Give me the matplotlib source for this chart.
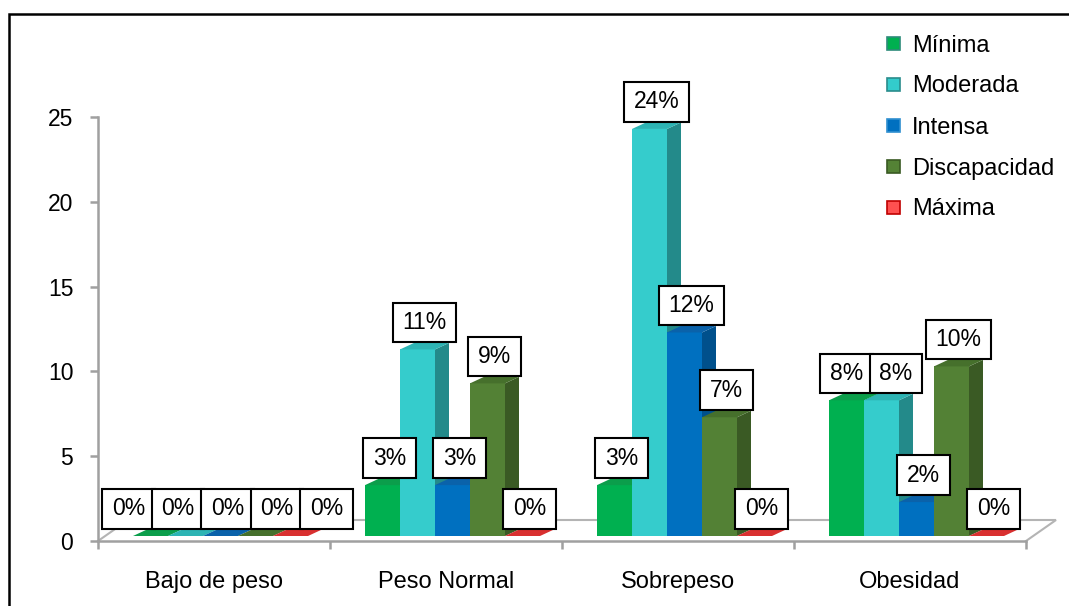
import matplotlib
matplotlib.use("Agg")
import matplotlib.pyplot as plt
from matplotlib.patches import Polygon, Rectangle

plt.rcParams['font.family'] = ['Liberation Sans', 'DejaVu Sans']

# data
categories = ["Bajo de peso", "Peso Normal", "Sobrepeso", "Obesidad"]
series = ["Mínima", "Moderada", "Intensa", "Discapacidad", "Máxima"]
minima = [0, 3, 3, 8]
moderada = [0, 11, 24, 8]
intensa = [0, 3, 12, 2]
discapacidad = [0, 9, 7, 10]
maxima = [0, 0, 0, 0]
values = [minima, moderada, intensa, discapacidad, maxima]

front_colors = ["#00B050", "#35CCCC", "#0070C0", "#538135", "#E23A3A"]
top_colors = ["#0B9E4B", "#2DB4B4", "#0A62AA", "#46702C", "#D93030"]
side_colors = ["#078040", "#238A8A", "#00508C", "#3A5A24", "#A82020"]
legend_fc = ["#00B050", "#33CCCC", "#0070C0", "#548235", "#FF5050"]
legend_ec = ["#2E8B7A", "#2A8C8C", "#2F8FD0", "#3A5A22", "#C00000"]

W, H, DPI = 1069, 606, 100
fig = plt.figure(figsize=(W / DPI, H / DPI), dpi=DPI)
ax = fig.add_axes([98 / W, 65 / H, 928 / W, 424 / H])
ax.set_xlim(0, 4)
ax.set_ylim(0, 25)

# pixel -> data unit helpers (fake 3D look)
xu, yu = 232.0, 424.0 / 25
bar_w = 35 / xu
base = 5 / yu
bdx, bdy = 14 / xu, 6.5 / yu
fdx, fdy = 30 / xu, 21 / yu

grey = "#A0A0A0"
# floor outline
ax.plot([0, fdx, 4 + fdx, 4], [0, fdy, fdy, 0], color="#B4B4B4", lw=1.5,
        zorder=1, clip_on=False, solid_joinstyle="miter")

labels = []
for j, vals in enumerate(values):
    for k, v in enumerate(vals):
        left = k + bar_w * (1 + j)
        right = left + bar_w
        y0, y1 = base, base + v
        z = 3 + j
        if v > 0:
            ax.add_patch(Polygon([(right, y0), (right + bdx, y0 + bdy),
                                  (right + bdx, y1 + bdy), (right, y1)],
                                 fc=side_colors[j], ec="none", zorder=z))
            ax.add_patch(Rectangle((left, y0), bar_w, v, fc=front_colors[j],
                                   ec="none", zorder=z))
        ax.add_patch(Polygon([(left, y1), (left + bdx, y1 + bdy),
                              (right + bdx, y1 + bdy), (right, y1)],
                             fc=top_colors[j], ec="none", zorder=z, clip_on=False))
        ann = ax.annotate(f"{v}%", xy=(left + bar_w / 2 + bdx / 2, y1 + bdy),
                          xytext=(0, 6.5), textcoords="offset points",
                          ha="center", va="bottom", fontsize=16.5,
                          bbox=dict(boxstyle="square,pad=0.42", fc="white",
                                    ec="black", lw=1.5, mutation_aspect=0.86),
                          zorder=20 + j, annotation_clip=False)
        labels.append((k, ann))

# spread label boxes that collide (same group)
fig.canvas.draw()
rend = fig.canvas.get_renderer()
for k in range(len(categories)):
    group = [a for g, a in labels if g == k]
    boxes = [a.get_bbox_patch().get_window_extent(rend) for a in group]
    xs = [(b.x0 + b.x1) / 2 for b in boxes]
    shift = [0.0] * len(group)
    for _ in range(60):
        moved = False
        for a in range(len(group)):
            for b in range(a + 1, len(group)):
                ba, bb = boxes[a], boxes[b]
                vov = min(ba.y1, bb.y1) - max(ba.y0, bb.y0)
                if vov <= 4:
                    continue
                ca, cb = xs[a] + shift[a], xs[b] + shift[b]
                need = (ba.width + bb.width) / 2 - 3
                if cb - ca < need - 0.1:
                    d = (need - (cb - ca)) / 2
                    shift[a] -= d
                    shift[b] += d
                    moved = True
        if not moved:
            break
    for a, s in zip(group, shift):
        a.xyann = (s * 72 / DPI, 6.5)

# axes styling
for s in ["top", "right"]:
    ax.spines[s].set_visible(False)
for s in ["left", "bottom"]:
    ax.spines[s].set_color(grey)
    ax.spines[s].set_linewidth(1.8)
ax.set_yticks([0, 5, 10, 15, 20, 25])
ax.tick_params(axis="y", length=5.8, width=1.8, color=grey, labelsize=16.5, pad=12)
ax.set_xticks([k + 0.5 for k in range(len(categories))])
ax.set_xticklabels(categories)
ax.set_xticks(range(len(categories) + 1), minor=True)
ax.tick_params(axis="x", which="major", length=0, labelsize=17, pad=21.5)
ax.tick_params(axis="x", which="minor", length=5.8, width=1.8, color=grey)

# legend, drawn by hand to sit like the original
for i, name in enumerate(series):
    yc = 43 + 41 * i
    fig.add_artist(Rectangle(((893 - 6.5) / W, 1 - (yc + 6.5) / H), 13 / W, 13 / H,
                             fc=legend_fc[i], ec=legend_ec[i], lw=1.2,
                             transform=fig.transFigure))
    fig.text(912 / W, 1 - (yc + 8.5) / H, name, va="baseline", ha="left", fontsize=17)

# outer frame of the chart area
fig.add_artist(Rectangle((9 / W, -0.1), 1.2, 1.1 - 14 / H, fill=False,
                         ec="black", lw=1.8, transform=fig.transFigure))

fig.savefig("out.png", dpi=DPI)
